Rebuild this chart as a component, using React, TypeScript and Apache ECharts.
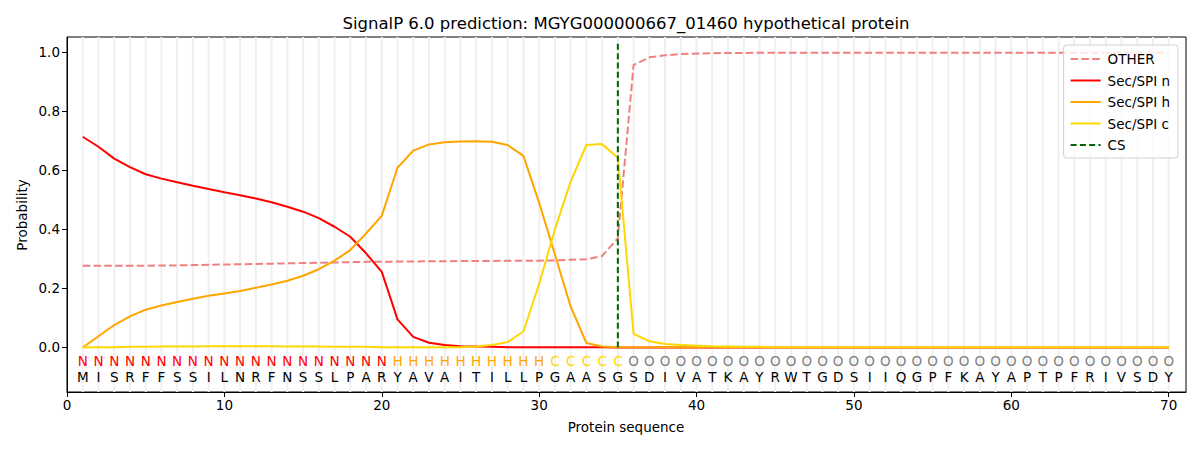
import React, { useEffect, useRef } from "react";
import * as echarts from "echarts";

const sequence = "MISRFFSSILNRFNSSLPARYAVAITILLPGAASGSDIVATKAYRWTGDSIIQGPFKAYAPTPFRIVSDY".split("");
const regions = ("NNNNNNNNNNNNNNNNNNNN" + "HHHHHHHHHH" + "CCCCC" + "O".repeat(35)).split("");
const positions = sequence.map((_, i) => i + 1);

const otherProb = [
  0.277, 0.277, 0.277, 0.277, 0.277, 0.278, 0.278, 0.279, 0.28, 0.281,
  0.282, 0.283, 0.284, 0.285, 0.286, 0.287, 0.288, 0.289, 0.29, 0.29,
  0.291, 0.291, 0.292, 0.292, 0.293, 0.293, 0.293, 0.294, 0.294, 0.294,
  0.295, 0.297, 0.299, 0.31, 0.37, 0.957, 0.983, 0.99, 0.994, 0.996,
  0.997, 0.998, 0.998, 0.999, 0.999, 0.999, 0.999, 0.999, 0.999, 0.999,
  0.999, 0.999, 0.999, 0.999, 0.999, 0.999, 0.999, 0.999, 0.999, 0.999,
  0.999, 0.999, 0.999, 0.999, 0.999, 0.999, 0.999, 0.999, 0.999, 0.999,
];
const secN = [
  0.714, 0.68, 0.64, 0.611, 0.587, 0.572, 0.56, 0.548, 0.537, 0.526,
  0.516, 0.505, 0.492, 0.477, 0.46, 0.438, 0.409, 0.375, 0.319, 0.256,
  0.095, 0.036, 0.016, 0.008, 0.004, 0.003, 0.002, 0.001, 0.001, 0.001,
  0.001, 0.001, 0.001, 0.001, 0.0, 0.0, 0.0, 0.0, 0.0, 0.0,
  0.0, 0.0, 0.0, 0.0, 0.0, 0.0, 0.0, 0.0, 0.0, 0.0,
  0.0, 0.0, 0.0, 0.0, 0.0, 0.0, 0.0, 0.0, 0.0, 0.0,
  0.0, 0.0, 0.0, 0.0, 0.0, 0.0, 0.0, 0.0, 0.0, 0.0,
];
const secH = [
  0.0, 0.038, 0.076, 0.105, 0.128, 0.142, 0.154, 0.165, 0.175, 0.183,
  0.191, 0.202, 0.213, 0.226, 0.243, 0.265, 0.294, 0.33, 0.386, 0.446,
  0.609, 0.667, 0.688, 0.695, 0.698, 0.699, 0.697, 0.686, 0.649, 0.49,
  0.315, 0.139, 0.015, 0.003, 0.001, 0.001, 0.001, 0.001, 0.001, 0.001,
  0.001, 0.001, 0.001, 0.001, 0.001, 0.001, 0.001, 0.001, 0.001, 0.001,
  0.001, 0.001, 0.001, 0.001, 0.001, 0.001, 0.001, 0.001, 0.001, 0.001,
  0.001, 0.001, 0.001, 0.001, 0.001, 0.001, 0.001, 0.001, 0.001, 0.001,
];
const secC = [
  0.0, 0.001, 0.001, 0.002, 0.002, 0.003, 0.003, 0.003, 0.004, 0.004,
  0.004, 0.004, 0.004, 0.003, 0.003, 0.003, 0.002, 0.002, 0.002, 0.001,
  0.001, 0.001, 0.001, 0.001, 0.001, 0.003, 0.008, 0.018, 0.054, 0.215,
  0.4, 0.562, 0.686, 0.689, 0.643, 0.046, 0.021, 0.012, 0.008, 0.006,
  0.004, 0.003, 0.002, 0.002, 0.001, 0.001, 0.001, 0.001, 0.001, 0.001,
  0.001, 0.001, 0.001, 0.001, 0.001, 0.001, 0.001, 0.001, 0.001, 0.001,
  0.001, 0.001, 0.001, 0.001, 0.001, 0.001, 0.001, 0.001, 0.001, 0.001,
];
const csPosition = 35;
const csTop = 1.037;
const xTicks = [0, 10, 20, 30, 40, 50, 60, 70];
const yTicks = [0, 0.2, 0.4, 0.6, 0.8, 1.0];

const regionColor: Record<string, string> = {
  N: "#ff0000",
  H: "#ffa500",
  C: "#ffd700",
  O: "#808080",
};

const FONT = "DejaVu Sans, sans-serif";

export default function App() {
  const ref = useRef<HTMLDivElement>(null);
  useEffect(() => {
    document.body.style.margin = "0";
    const chart = echarts.init(ref.current!, null, { renderer: "svg" });
    const pair = (arr: number[]) => arr.map((v, i) => [positions[i], v]);
    const letterData = positions.map((p, i) => [p, i]);

    const option: any = {
      animation: false,
      backgroundColor: "#ffffff",
      textStyle: { fontFamily: FONT },
      grid: {
        left: 67,
        right: 14,
        top: 37,
        bottom: 58,
        containLabel: false,
        show: true,
        borderColor: "#000",
        borderWidth: 1,
        backgroundColor: "transparent",
      },
      xAxis: {
        type: "value",
        min: 0,
        max: 71.1,
        axisLine: { onZero: false, lineStyle: { color: "#000", width: 1 } },
        axisTick: { customValues: xTicks, length: 5, lineStyle: { color: "#000" } },
        axisLabel: {
          customValues: xTicks,
          color: "#000",
          fontSize: 13.5,
          fontFamily: FONT,
          margin: 6,
        },
        splitLine: { show: false },
      },
      yAxis: {
        type: "value",
        min: -0.151,
        max: 1.052,
        axisLine: { show: true, lineStyle: { color: "#000", width: 1 } },
        axisTick: { show: true, customValues: yTicks, length: 5, lineStyle: { color: "#000" } },
        axisLabel: {
          customValues: yTicks,
          color: "#000",
          fontSize: 13.5,
          fontFamily: FONT,
          margin: 7,
          formatter: (v: number) => v.toFixed(1),
        },
        splitLine: { show: false },
      },
      legend: {
        orient: "vertical",
        right: 22,
        top: 45,
        padding: [7, 8, 6, 6],
        itemGap: 7.5,
        itemWidth: 30,
        itemHeight: 14,
        backgroundColor: "rgba(255,255,255,0.8)",
        borderColor: "#d0d0d0",
        borderWidth: 1,
        borderRadius: 3,
        itemStyle: { opacity: 0 },
        textStyle: { fontSize: 13.5, fontFamily: FONT, color: "#000", padding: [0, 0, 0, 2] },
        data: ["OTHER", "Sec/SPI n", "Sec/SPI h", "Sec/SPI c", "CS"],
      },
      series: [
        {
          type: "custom",
          name: "grid",
          silent: true,
          z: 0,
          data: positions.map((p) => [p]),
          renderItem: (params: any, api: any) => {
            const x = api.value(0);
            const a = api.coord([x, -0.151]);
            const b = api.coord([x, 1.052]);
            return {
              type: "line",
              shape: { x1: a[0], y1: a[1], x2: b[0], y2: b[1] },
              style: { stroke: "#efefef", lineWidth: 2 },
            };
          },
        },
        {
          name: "OTHER",
          type: "line",
          data: pair(otherProb),
          symbol: "none",
          z: 3,
          lineStyle: { color: "#f08080", width: 2, type: [7.5, 3.3] },
          itemStyle: { color: "#f08080" },
        },
        {
          name: "Sec/SPI n",
          type: "line",
          data: pair(secN),
          symbol: "none",
          z: 3,
          lineStyle: { color: "#ff0000", width: 2 },
          itemStyle: { color: "#ff0000" },
        },
        {
          name: "Sec/SPI h",
          type: "line",
          data: pair(secH),
          symbol: "none",
          z: 3,
          lineStyle: { color: "#ffa500", width: 2 },
          itemStyle: { color: "#ffa500" },
        },
        {
          name: "Sec/SPI c",
          type: "line",
          data: pair(secC),
          symbol: "none",
          z: 3,
          lineStyle: { color: "#ffd700", width: 2 },
          itemStyle: { color: "#ffd700" },
        },
        {
          name: "CS",
          type: "line",
          data: [
            [csPosition, 0],
            [csPosition, csTop],
          ],
          symbol: "none",
          z: 4,
          lineStyle: { color: "#006400", width: 2, type: [6, 3.3] },
          itemStyle: { color: "#006400" },
        },
        {
          type: "custom",
          name: "letters",
          silent: true,
          z: 5,
          data: letterData,
          renderItem: (params: any, api: any) => {
            const x = api.value(0);
            const idx = api.value(1);
            const r = regions[idx];
            const p1 = api.coord([x, -0.045]);
            const p2 = api.coord([x, -0.1]);
            return {
              type: "group",
              children: [
                {
                  type: "text",
                  x: p1[0],
                  y: p1[1],
                  style: {
                    text: r,
                    fill: regionColor[r],
                    font: `13.5px ${FONT}`,
                    align: "center",
                    verticalAlign: "middle",
                  },
                },
                {
                  type: "text",
                  x: p2[0],
                  y: p2[1],
                  style: {
                    text: sequence[idx],
                    fill: "#000",
                    font: `13.5px ${FONT}`,
                    align: "center",
                    verticalAlign: "middle",
                  },
                },
              ],
            };
          },
        },
      ],
      graphic: [
        {
          type: "text",
          x: 626,
          y: 23,
          style: {
            text: "SignalP 6.0 prediction: MGYG000000667_01460 hypothetical protein",
            font: `16.5px ${FONT}`,
            fill: "#000",
            align: "center",
            verticalAlign: "middle",
          },
        },
        {
          type: "text",
          x: 626,
          y: 427,
          style: {
            text: "Protein sequence",
            font: `13.5px ${FONT}`,
            fill: "#000",
            align: "center",
            verticalAlign: "middle",
          },
        },
        {
          type: "text",
          x: 22,
          y: 215,
          rotation: Math.PI / 2,
          style: {
            text: "Probability",
            font: `13.5px ${FONT}`,
            fill: "#000",
            align: "center",
            verticalAlign: "middle",
          },
        },
      ],
    };
    chart.setOption(option);
    return () => chart.dispose();
  }, []);
  return <div ref={ref} style={{ width: 1200, height: 450 }} />;
}
